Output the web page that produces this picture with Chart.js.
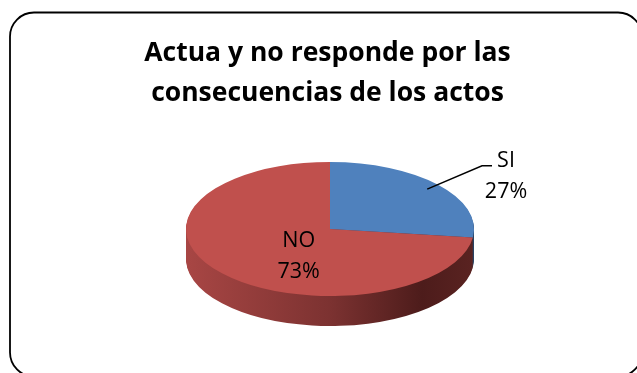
<!DOCTYPE html>
<html>
<head>
<meta charset="utf-8">
<script src="https://cdn.jsdelivr.net/npm/chart.js@4.4.0/dist/chart.umd.min.js"></script>
<style>
    html, body { margin: 0; padding: 0; background: #fff; }
    #wrap { width: 637px; height: 373px; position: relative; }
</style>
</head>
<body>
<div id="wrap"><canvas id="actosPie"></canvas></div>
<script>
"use strict";

const categories = ['SI', 'NO'];
const percentages = [27, 73];
const sliceColors = ['#4F81BD', '#C0504D'];
// side wall shading, left -> right
const sideShades = [
    ['#3d6594', '#2f4f76', '#213957', '#294363'],
    ['#a84644', '#7c3231', '#4d1c1b', '#5a2321']
];
const titleLines = ['Actua y no responde por las', 'consecuencias de los actos'];

// placement of the tilted disc on the canvas
const DISC = { cx: 330, cy: 229, rx: 144, ry: 67, depth: 30 };
const LABEL_FONT = '21.5px "Open Sans"';

// squash the library's circle into the tilted ellipse
function discTransform(ctx, ref, drop) {
    const sx = DISC.rx / ref.outerRadius;
    const sy = DISC.ry / ref.outerRadius;
    ctx.translate(DISC.cx, DISC.cy + drop);
    ctx.scale(sx, sy);
    ctx.translate(-ref.x, -ref.y);
}

function discPoint(angle, f) {
    return {
        x: DISC.cx + Math.cos(angle) * DISC.rx * f,
        y: DISC.cy + Math.sin(angle) * DISC.ry * f
    };
}

const tiltedPie = {
    id: 'tiltedPie',
    beforeDraw(chart) {
        // rounded frame
        const ctx = chart.ctx;
        ctx.save();
        ctx.beginPath();
        ctx.roundRect(10, 12.5, 632, 364, 24);
        ctx.lineWidth = 1.8;
        ctx.strokeStyle = '#000';
        ctx.stroke();
        ctx.restore();
    },
    beforeDatasetsDraw(chart) {
        const ctx = chart.ctx;
        const arcs = chart.getDatasetMeta(0).data;
        const ref = arcs[0];

        // side wall: stack shifted copies of every slice
        const fills = arcs.map((arc, i) => {
            const g = ctx.createLinearGradient(ref.x - ref.outerRadius, 0, ref.x + ref.outerRadius, 0);
            const s = sideShades[i];
            g.addColorStop(0, s[0]);
            g.addColorStop(0.5, s[1]);
            g.addColorStop(0.82, s[2]);
            g.addColorStop(1, s[3]);
            return g;
        });
        for (let d = DISC.depth; d > 0; d--) {
            arcs.forEach((arc, i) => {
                const saved = arc.options;
                arc.options = Object.assign({}, saved, { backgroundColor: fills[i], borderWidth: 0 });
                ctx.save();
                discTransform(ctx, ref, d);
                arc.draw(ctx);
                ctx.restore();
                arc.options = saved;
            });
        }

        // top face is drawn by the chart itself under this transform
        ctx.save();
        discTransform(ctx, ref, 0);
    },
    afterDatasetsDraw(chart) {
        const ctx = chart.ctx;
        ctx.restore();

        const arcs = chart.getDatasetMeta(0).data;
        ctx.save();
        ctx.font = LABEL_FONT;
        ctx.fillStyle = '#000';
        ctx.textAlign = 'center';
        ctx.textBaseline = 'alphabetic';

        arcs.forEach((arc, i) => {
            const mid = (arc.startAngle + arc.endAngle) / 2;
            const pct = percentages[i] + '%';
            if (percentages[i] < 50) {
                // outside label with leader line
                const edge = discPoint(mid, 1);
                const start = discPoint(mid, 0.9);
                ctx.beginPath();
                ctx.moveTo(start.x, start.y);
                ctx.lineTo(edge.x + 44, edge.y - 19);
                ctx.lineTo(edge.x + 54, edge.y - 19);
                ctx.lineWidth = 1.5;
                ctx.strokeStyle = '#000';
                ctx.stroke();
                ctx.fillText(categories[i], edge.x + 68, edge.y - 18);
                ctx.fillText(pct, edge.x + 68, edge.y + 13);
            } else {
                const p = discPoint(mid, 0.29);
                ctx.fillText(categories[i], p.x, p.y + 5);
                ctx.fillText(pct, p.x, p.y + 36);
            }
        });
        ctx.restore();
    }
};

new Chart(document.getElementById('actosPie'), {
    type: 'pie',
    data: {
        labels: categories,
        datasets: [{
            data: percentages,
            backgroundColor: sliceColors,
            borderWidth: 0
        }]
    },
    options: {
        responsive: true,
        maintainAspectRatio: false,
        animation: false,
        events: [],
        layout: { padding: { left: 18, right: 0, top: 0, bottom: 0 } },
        plugins: {
            legend: { display: false },
            tooltip: { enabled: false },
            title: {
                display: true,
                text: titleLines,
                color: '#000',
                font: { family: 'Open Sans', size: 26.5, weight: 'bold', lineHeight: 1.52 },
                padding: { top: 33, bottom: 10 }
            }
        }
    },
    plugins: [tiltedPie]
});
</script>
</body>
</html>
